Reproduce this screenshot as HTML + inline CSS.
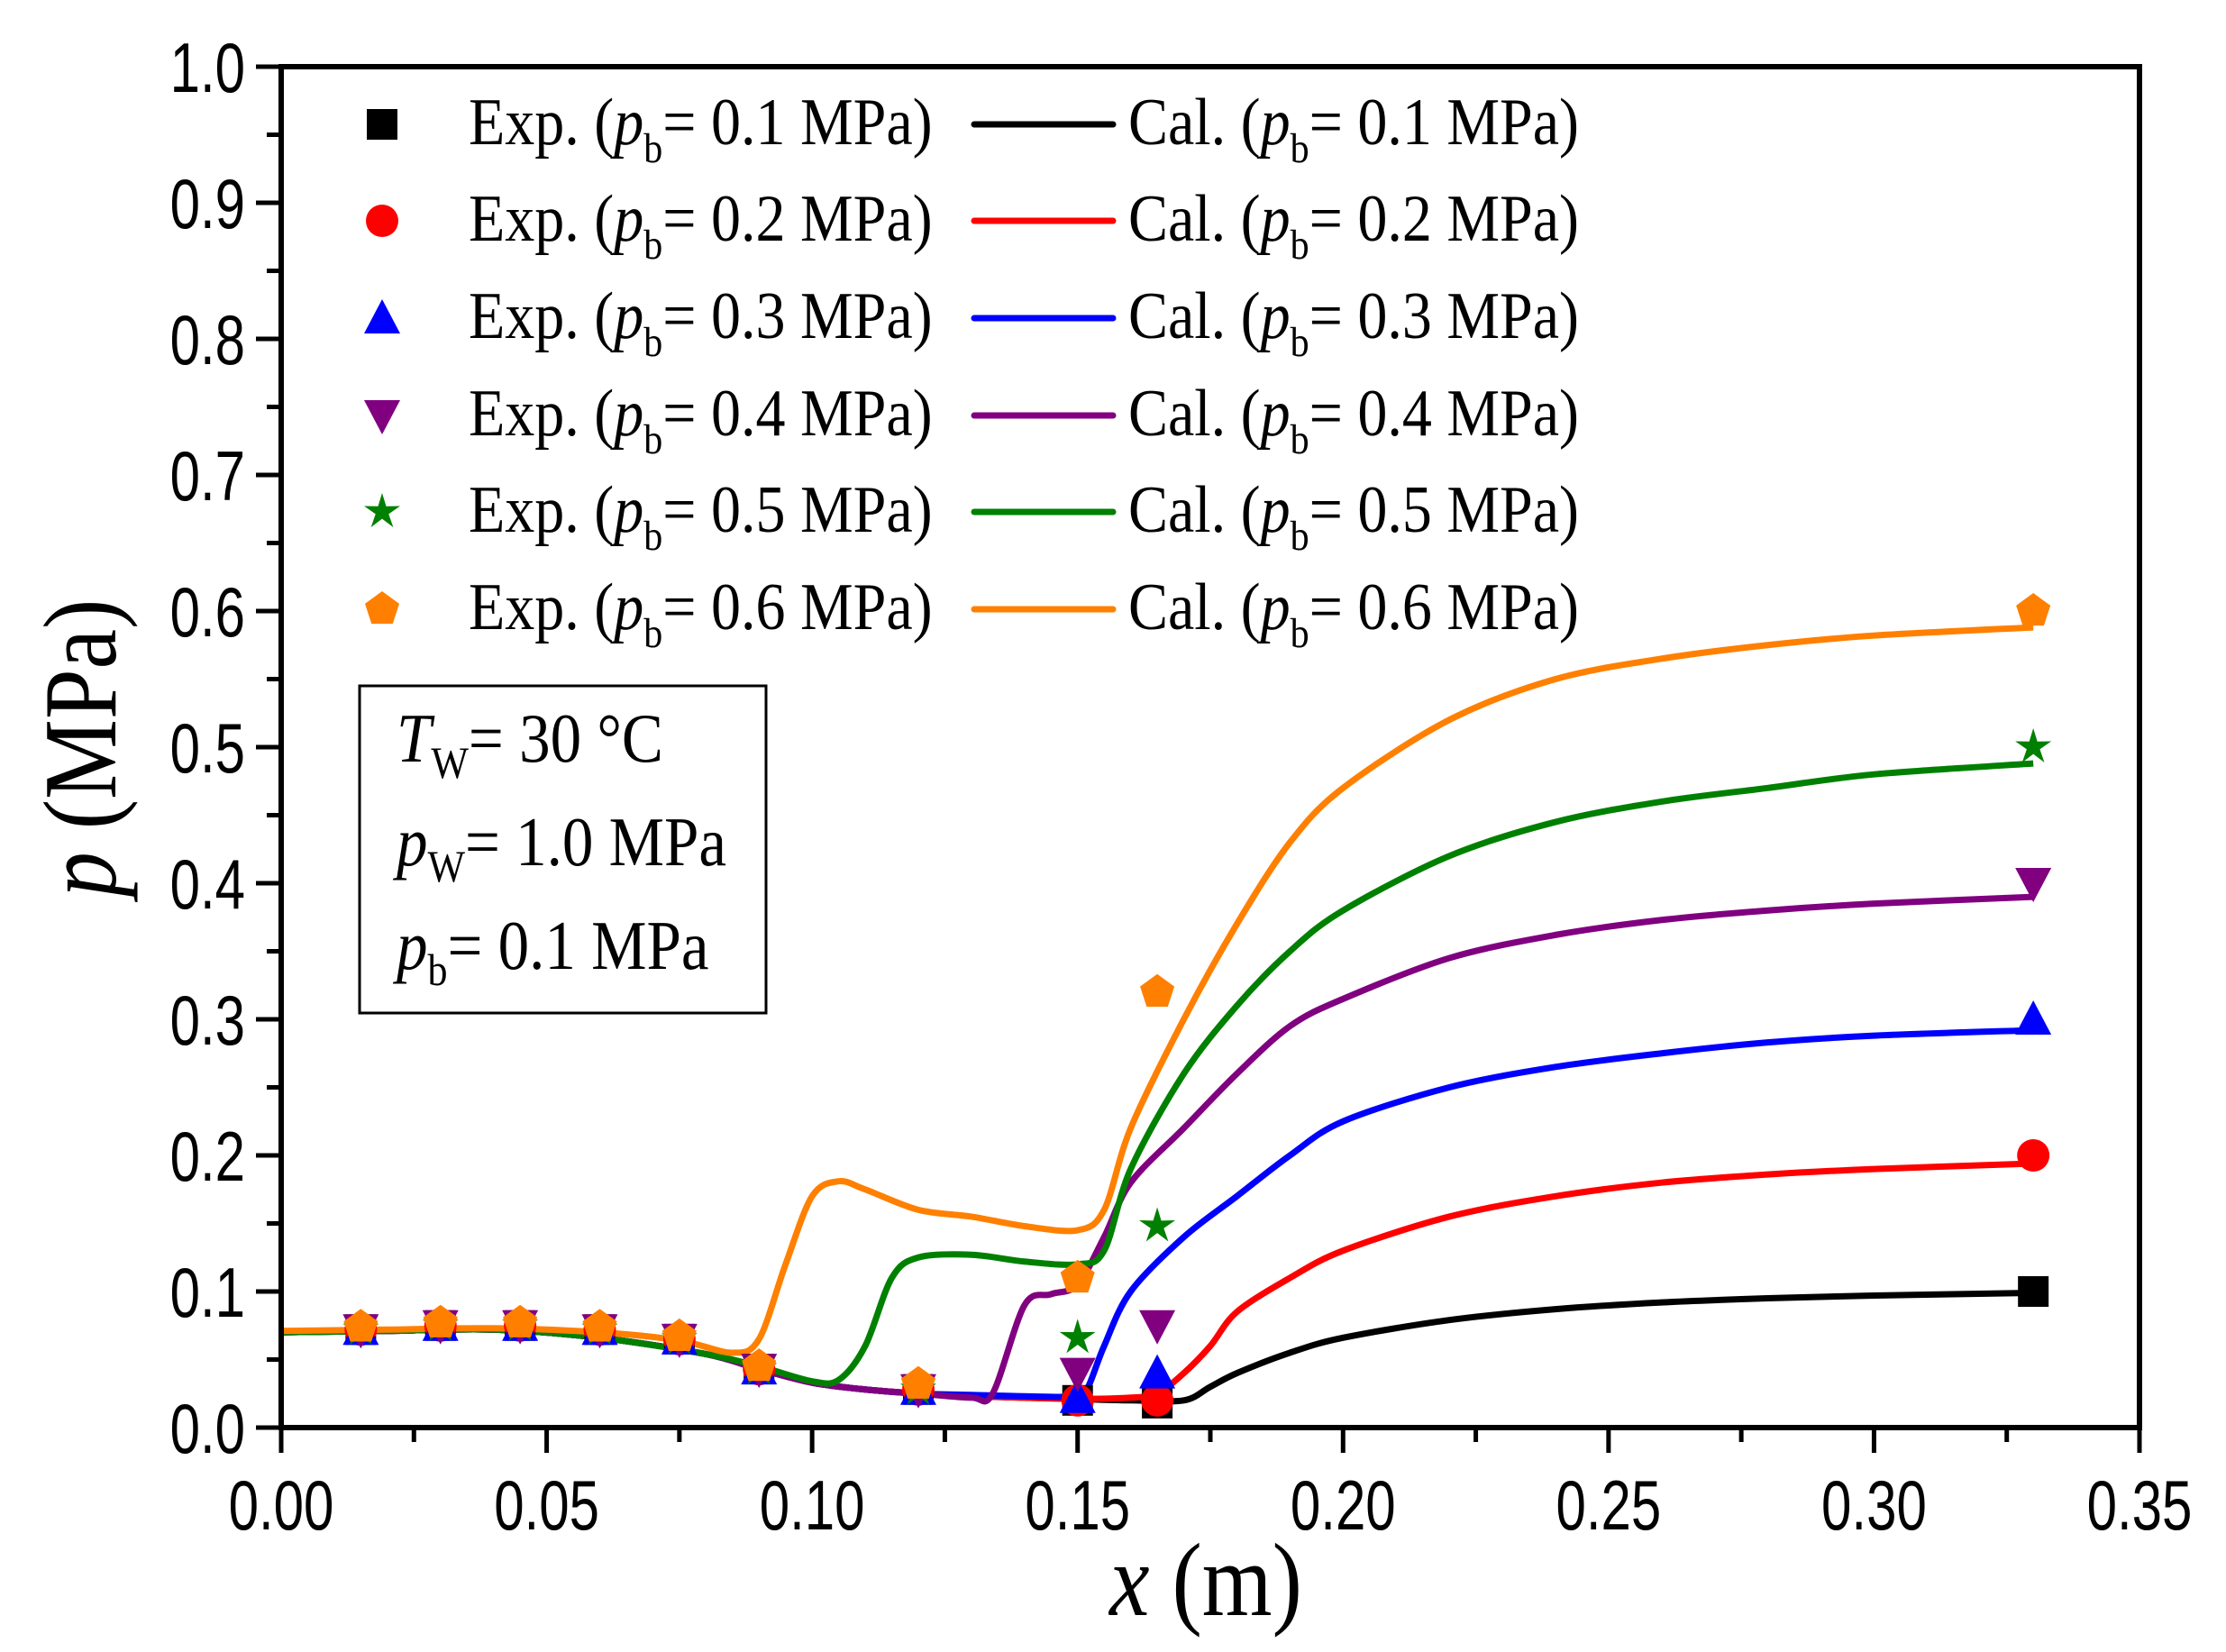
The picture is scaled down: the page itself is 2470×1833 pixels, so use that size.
<!DOCTYPE html>
<html><head><meta charset="utf-8"><style>
html,body{margin:0;padding:0;background:#fff}
svg{display:block}
.tk{font-family:"Liberation Sans",sans-serif;font-size:60px;fill:#000}
.lg{font-family:"Liberation Serif",serif;font-size:66px;fill:#000}
</style></head><body>
<svg id="chart" width="2470" height="1833" viewBox="0 0 2470 1833" xmlns="http://www.w3.org/2000/svg">
<g id="plot"></g>
<g id="axes"></g>
<g id="legend"></g>
<g>
<rect x="399" y="761" width="451" height="363" fill="#fff" stroke="#000" stroke-width="3"/>
<text class="lg" transform="translate(440,845) scale(1,1.12)" style="font-size:69px"><tspan font-style="italic">T</tspan><tspan font-size="44" dy="16">W</tspan><tspan dy="-16">= 30 °C</tspan></text>
<text class="lg" transform="translate(440,960) scale(1,1.12)" style="font-size:69px"><tspan font-style="italic">p</tspan><tspan font-size="44" dy="16">W</tspan><tspan dy="-16">= 1.0 MPa</tspan></text>
<text class="lg" transform="translate(440,1075) scale(1,1.12)" style="font-size:69px"><tspan font-style="italic">p</tspan><tspan font-size="44" dy="16">b</tspan><tspan dy="-16">= 0.1 MPa</tspan></text>
</g>
<text class="lg" transform="translate(1338,1792) scale(1,1.15)" text-anchor="middle" style="font-size:100px"><tspan font-style="italic">x</tspan> (m)</text>
<text class="lg" transform="translate(128,830) rotate(-90) scale(1,1.15)" text-anchor="middle" style="font-size:100px"><tspan font-style="italic">p</tspan> (MPa)</text>
</svg>
<script>
const xTicks=[0,0.05,0.10,0.15,0.20,0.25,0.30,0.35];
const xTickLabels=["0.00","0.05","0.10","0.15","0.20","0.25","0.30","0.35"];
const yTicks=[0,0.1,0.2,0.3,0.4,0.5,0.6,0.7,0.8,0.9,1.0];
const yTickLabels=["0.0","0.1","0.2","0.3","0.4","0.5","0.6","0.7","0.8","0.9","1.0"];
const seriesNames=["0.1","0.2","0.3","0.4","0.5","0.6"];
const colors=["#000000","#ff0000","#0000ff","#800080","#008000","#ff8000"];
const markers=["square","circle","triangle","down","star","pentagon"];
const expX=[0.015,0.03,0.045,0.06,0.075,0.09,0.12,0.15,0.165,0.33];
const exp01=[0.072,0.075,0.075,0.072,0.065,0.043,0.028,0.020,0.018,0.100];
const exp02=[0.072,0.075,0.075,0.072,0.065,0.043,0.028,0.020,0.020,0.200];
const exp03=[0.072,0.075,0.075,0.072,0.065,0.043,0.028,0.022,0.040,0.300];
const exp04=[0.072,0.075,0.075,0.072,0.065,0.043,0.028,0.040,0.075,0.400];
const exp05=[0.072,0.075,0.075,0.072,0.065,0.043,0.028,0.066,0.148,0.500];
const exp06=[0.074,0.077,0.077,0.074,0.067,0.045,0.032,0.110,0.320,0.600];
const calX01=[0,0.02,0.04,0.06,0.08,0.09,0.10,0.11,0.12,0.13,0.14,0.15,0.16,0.17,0.175,0.18,0.19,0.20,0.22,0.24,0.26,0.28,0.30,0.33];
const calY01=[0.070,0.071,0.072,0.066,0.054,0.043,0.033,0.028,0.025,0.023,0.022,0.021,0.020,0.020,0.030,0.040,0.055,0.066,0.079,0.087,0.092,0.095,0.097,0.099];
const calX02=[0,0.02,0.04,0.06,0.08,0.09,0.10,0.11,0.12,0.13,0.14,0.15,0.16,0.165,0.17,0.175,0.18,0.19,0.20,0.22,0.24,0.26,0.28,0.30,0.33];
const calY02=[0.070,0.071,0.072,0.066,0.054,0.043,0.033,0.028,0.025,0.023,0.022,0.021,0.022,0.025,0.040,0.060,0.085,0.110,0.130,0.155,0.170,0.180,0.186,0.190,0.194];
const calX03=[0,0.02,0.04,0.06,0.08,0.09,0.10,0.11,0.12,0.13,0.14,0.15,0.152,0.155,0.16,0.17,0.18,0.19,0.20,0.22,0.24,0.26,0.28,0.30,0.33];
const calY03=[0.070,0.071,0.072,0.066,0.054,0.043,0.033,0.028,0.025,0.024,0.023,0.023,0.030,0.060,0.100,0.140,0.170,0.200,0.225,0.250,0.265,0.275,0.283,0.288,0.292];
const calX04=[0,0.02,0.04,0.06,0.08,0.09,0.10,0.11,0.12,0.13,0.134,0.14,0.145,0.15,0.155,0.16,0.17,0.18,0.19,0.20,0.22,0.24,0.26,0.28,0.30,0.33];
const calY04=[0.070,0.071,0.072,0.066,0.054,0.043,0.033,0.028,0.025,0.022,0.025,0.090,0.098,0.105,0.140,0.180,0.220,0.260,0.295,0.315,0.345,0.362,0.373,0.380,0.385,0.390];
const calX05=[0,0.02,0.04,0.06,0.08,0.09,0.10,0.105,0.11,0.115,0.12,0.13,0.14,0.15,0.155,0.16,0.17,0.18,0.19,0.20,0.22,0.24,0.26,0.28,0.30,0.33];
const calY05=[0.070,0.071,0.072,0.066,0.054,0.045,0.034,0.035,0.060,0.110,0.125,0.127,0.122,0.120,0.130,0.190,0.260,0.310,0.350,0.380,0.420,0.445,0.460,0.470,0.480,0.488];
const calX06=[0,0.02,0.04,0.06,0.075,0.085,0.09,0.095,0.10,0.105,0.11,0.12,0.13,0.14,0.15,0.155,0.16,0.17,0.18,0.19,0.20,0.22,0.24,0.26,0.28,0.30,0.33];
const calY06=[0.071,0.072,0.073,0.070,0.064,0.055,0.065,0.120,0.170,0.181,0.175,0.160,0.155,0.148,0.145,0.160,0.220,0.300,0.370,0.430,0.470,0.520,0.550,0.565,0.575,0.582,0.588];
const expSeries=[exp01,exp02,exp03,exp04,exp05,exp06];
const calXs=[calX01,calX02,calX03,calX04,calX05,calX06];
const calYs=[calY01,calY02,calY03,calY04,calY05,calY06];

const NS="http://www.w3.org/2000/svg";
const L=312,R=2374,T=74,B=1584;
const sx=v=>L+(v-0)/(0.35-0)*(R-L);
const sy=v=>B-(v-0)/(1.0-0)*(B-T);
function mk(tag,attrs,parent){const e=document.createElementNS(NS,tag);for(const k in attrs)e.setAttribute(k,attrs[k]);parent.appendChild(e);return e;}
const plot=document.getElementById('plot'),axes=document.getElementById('axes'),legend=document.getElementById('legend');

function pathFrom(xs,ys){
  const P=xs.map((x,i)=>[sx(x),sy(ys[i])]);
  let d=`M${P[0][0]},${P[0][1]}`;
  for(let i=0;i<P.length-1;i++){
    const p0=P[i-1]||P[i],p1=P[i],p2=P[i+1],p3=P[i+2]||P[i+1];
    const t=0.16;
    d+=` C${p1[0]+(p2[0]-p0[0])*t},${p1[1]+(p2[1]-p0[1])*t} ${p2[0]-(p3[0]-p1[0])*t},${p2[1]-(p3[1]-p1[1])*t} ${p2[0]},${p2[1]}`;
  }
  return d;
}
function marker(type,cx,cy,color,parent){
  const s=17;let e;
  if(type==="square")e=mk('rect',{x:cx-s,y:cy-s,width:2*s,height:2*s,fill:color},parent);
  else if(type==="circle")e=mk('circle',{cx:cx,cy:cy,r:s+1,fill:color},parent);
  else if(type==="triangle")e=mk('polygon',{points:`${cx},${cy-s-4} ${cx+s+3},${cy+s} ${cx-s-3},${cy+s}`,fill:color},parent);
  else if(type==="down")e=mk('polygon',{points:`${cx},${cy+s+4} ${cx+s+3},${cy-s} ${cx-s-3},${cy-s}`,fill:color},parent);
  else if(type==="star"){let pts=[];for(let i=0;i<10;i++){const r=i%2?s*0.45:s+4;const a=-Math.PI/2+i*Math.PI/5;pts.push(`${cx+r*Math.cos(a)},${cy+r*Math.sin(a)}`);}e=mk('polygon',{points:pts.join(' '),fill:color},parent);}
  else {let pts=[];for(let i=0;i<5;i++){const a=-Math.PI/2+i*2*Math.PI/5;pts.push(`${cx+(s+3)*Math.cos(a)},${cy+(s+3)*Math.sin(a)}`);}e=mk('polygon',{points:pts.join(' '),fill:color},parent);}
  return e;
}
calXs.forEach((xs,i)=>{
  const p=mk('path',{d:pathFrom(xs,calYs[i]),fill:'none',stroke:colors[i],'stroke-width':7,'stroke-linejoin':'round'},plot);
  
  
});
expSeries.forEach((ys,i)=>{
  const g=mk('g',{},plot);
  
  
  ys.forEach((v,j)=>{
    const m=marker(markers[i],sx(expX[j]),sy(v),colors[i],g);
    
    
  });
});
const fr=mk('rect',{x:L,y:T,width:R-L,height:B-T,fill:'none',stroke:'#000','stroke-width':6},axes);


xTicks.forEach((v,i)=>{
  const x=sx(v);
  const t=mk('line',{x1:x,y1:B,x2:x,y2:B+28,stroke:'#000','stroke-width':5},axes);
  
  
  if(i<xTicks.length-1){const xm=sx(v+0.025);mk('line',{x1:xm,y1:B,x2:xm,y2:B+16,stroke:'#000','stroke-width':5},axes);}
  const lb=mk('text',{transform:`translate(${x},1697) scale(1,1.3)`,'text-anchor':'middle',class:'tk'},axes);lb.textContent=xTickLabels[i];
  
  
});
yTicks.forEach((v,i)=>{
  const y=sy(v);
  const t=mk('line',{x1:L,y1:y,x2:L-28,y2:y,stroke:'#000','stroke-width':5},axes);
  
  
  if(i<yTicks.length-1){const ym=sy(v+0.05);mk('line',{x1:L,y1:ym,x2:L-16,y2:ym,stroke:'#000','stroke-width':5},axes);}
  const lb=mk('text',{transform:`translate(272,${y+28}) scale(1,1.3)`,'text-anchor':'end',class:'tk'},axes);lb.textContent=yTickLabels[i];
  
  
});
const rowsY=[138,245,353,461,568,676];
seriesNames.forEach((n,i)=>{
  const y=rowsY[i];
  const g1=mk('g',{},legend);
  
  
  marker(markers[i],424,y,colors[i],g1);
  const t1=mk('text',{transform:`translate(520,${y+22}) scale(1,1.12)`,class:'lg'},g1);
  t1.innerHTML=`Exp. (<tspan font-style="italic">p</tspan><tspan font-size="42" dy="18">b</tspan><tspan dy="-18">= ${n} MPa)</tspan>`;
  const g2=mk('g',{},legend);
  
  
  mk('line',{x1:1081,y1:y,x2:1235,y2:y,stroke:colors[i],'stroke-width':7,'stroke-linecap':'round'},g2);
  const t2=mk('text',{transform:`translate(1252,${y+22}) scale(1,1.12)`,class:'lg'},g2);
  t2.innerHTML=`Cal. (<tspan font-style="italic">p</tspan><tspan font-size="42" dy="18">b</tspan><tspan dy="-18">= ${n} MPa)</tspan>`;
});
</script>
</body></html>
